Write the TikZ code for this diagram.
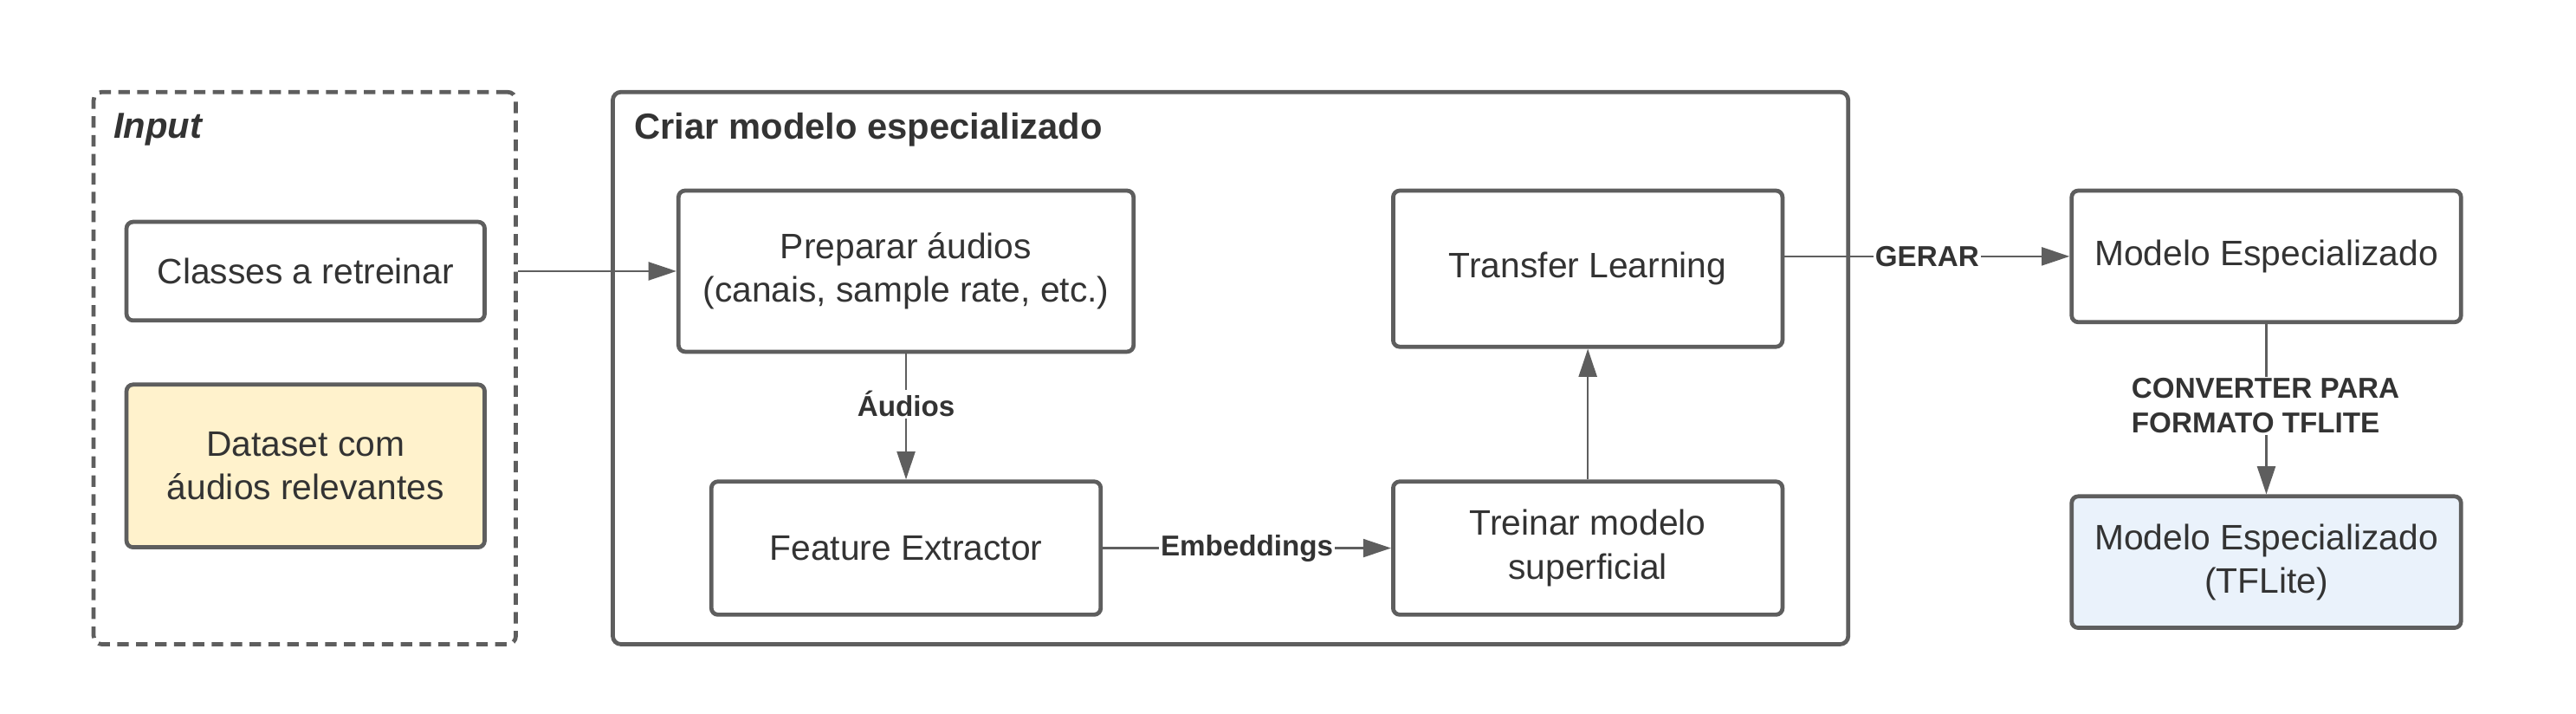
\documentclass[tikz,border=0pt]{standalone}
\usepackage{fontspec}
\setmainfont{Liberation Sans}
\usetikzlibrary{arrows.meta}
\definecolor{linegray}{HTML}{5E5E5E}
\definecolor{textgray}{HTML}{333333}
\definecolor{notefill}{HTML}{FFF2CC}
\definecolor{litefill}{HTML}{EAF2FB}
\tikzset{
  box/.style={draw=linegray, line width=2.5pt, rounded corners=4pt, align=center,
    text=textgray, font=\fontsize{21.5}{26.5}\selectfont, inner sep=0pt},
  group/.style={draw=linegray, line width=2.5pt, rounded corners=5pt, inner sep=0pt},
  title/.style={anchor=west, inner sep=0pt, text=textgray, font=\fontsize{22}{26}\selectfont\bfseries},
  arr/.style={draw=linegray, line width=1.4pt, -{Triangle[length=17pt,width=11pt]}},
  lbl/.style={fill=white, inner sep=1pt, text=textgray, font=\fontsize{17.5}{21}\selectfont\bfseries}
}
\begin{document}
\begin{tikzpicture}[x=1pt, y=-1pt]
	\useasboundingbox (0,0) rectangle (1568,434);

	% containers
	\node[group, dash pattern=on 7pt off 4.5pt, minimum width=257pt, minimum height=336pt] (input) at (185.5,224) {};
	\node[title, font=\fontsize{22}{26}\selectfont\bfseries\itshape] (inputtitle) at (69,79) {Input};
	\node[group, minimum width=752pt, minimum height=336pt] (criar) at (749,224) {};
	\node[title] (criartitle) at (386,79) {Criar modelo especializado};

	% input boxes
	\node[box, minimum width=218pt, minimum height=60pt] (classes) at (186,165) {Classes a retreinar};
	\node[box, fill=notefill, minimum width=218pt, minimum height=99pt] (dataset) at (186,283.5) {Dataset com\\áudios relevantes};

	% pipeline
	\node[box, minimum width=277pt, minimum height=98pt] (prep) at (551.5,165) {Preparar áudios\\(canais, sample rate, etc.)};
	\node[box, minimum width=237pt, minimum height=81pt] (feat) at (551.5,333.5) {Feature Extractor};
	\node[box, minimum width=237pt, minimum height=81pt] (treinar) at (966.5,333.5) {Treinar modelo\\superficial};
	\node[box, minimum width=237pt, minimum height=95pt] (transfer) at (966.5,163.5) {Transfer Learning};

	% outputs
	\node[box, minimum width=237pt, minimum height=80pt] (modelo) at (1379.5,156) {Modelo Especializado};
	\node[box, fill=litefill, minimum width=237pt, minimum height=80pt] (tflite) at (1379.5,342) {Modelo Especializado\\(TFLite)};

	% connectors
	\draw[arr] (input.east |- prep.west) -- (prep.west);
	\draw[arr] (prep.south) -- node[lbl, pos=0.4] {Áudios} (feat.north);
	\draw[arr] (feat.east) -- node[lbl] {Embeddings} (treinar.west);
	\draw[arr] (treinar.north) -- (transfer.south);
	\draw[arr] (transfer.east |- modelo.west) -- node[lbl] {GERAR} (modelo.west);
	\draw[arr] (modelo.south) -- node[lbl, align=left, pos=0.48, xshift=-0.5pt] {CONVERTER PARA\\FORMATO TFLITE} (tflite.north);
\end{tikzpicture}
\end{document}
